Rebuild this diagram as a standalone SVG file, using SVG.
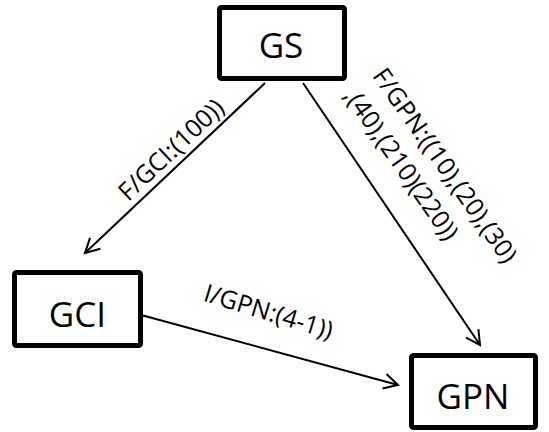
<svg xmlns="http://www.w3.org/2000/svg" width="549" height="432" viewBox="0 0 549 432">
<style>
.box{fill:#fff;stroke:#000;stroke-width:5}
.nt{font-family:"Open Sans","Liberation Sans",sans-serif;font-size:35px;fill:#000;text-anchor:middle}
.lt{font-family:"Open Sans","Liberation Sans",sans-serif;font-size:25px;fill:#000}
.edge{stroke:#000;stroke-width:2;fill:none;marker-end:url(#arr)}
</style>
<defs>
<marker id="arr" markerUnits="userSpaceOnUse" markerWidth="20" markerHeight="20" viewBox="-16 -10 20 20" refX="0" refY="0" orient="auto">
<path d="M-14,-7.5 L0,0 L-14,7.5" fill="none" stroke="#000" stroke-width="2"/>
</marker>
</defs>
<rect width="549" height="432" fill="#fff"/>
<g id="connectors">
<line class="edge" x1="265" y1="83" x2="85" y2="253"/>
<line class="edge" x1="303" y1="83" x2="480" y2="345"/>
<line class="edge" x1="143" y1="315.5" x2="398" y2="385"/>
<text class="lt" text-anchor="middle" transform="translate(177,156) rotate(-43.4)">F/GCI:(100))</text>
<g transform="translate(371.7,75.7) rotate(55)">
<text class="lt" x="0" y="0">F/GPN:((10),(20),(30)</text>
<text class="lt" x="0" y="35">,(40),(210)(220))</text>
</g>
<text class="lt" text-anchor="middle" transform="translate(266,320) rotate(17)">I/GPN:(4-1))</text>
</g>
<g id="GS">
<rect class="box" x="219.5" y="7.5" width="125" height="71" rx="2"/>
<text class="nt" x="281" y="58">GS</text>
</g>
<g id="GCI">
<rect class="box" x="14.5" y="272.5" width="126" height="73" rx="2"/>
<text class="nt" x="77.5" y="327">GCI</text>
</g>
<g id="GPN">
<rect class="box" x="411.5" y="355.5" width="124" height="72" rx="2"/>
<text class="nt" x="473" y="409">GPN</text>
</g>
</svg>
